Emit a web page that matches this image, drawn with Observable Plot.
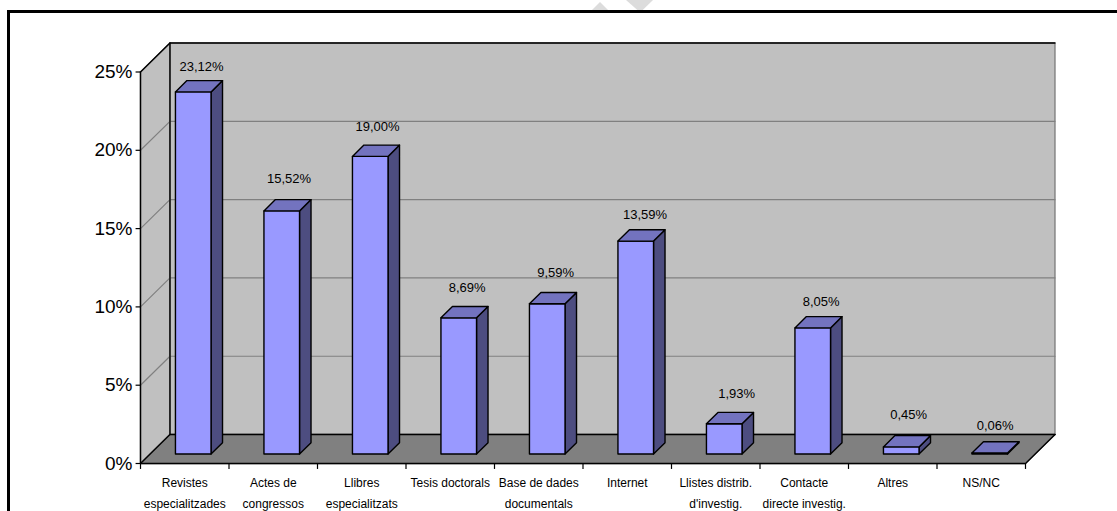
<!DOCTYPE html>
<html>
<head>
<meta charset="utf-8">
<script src="https://cdn.jsdelivr.net/npm/d3@7"></script>
<script src="https://cdn.jsdelivr.net/npm/@observablehq/plot@0.6"></script>
<style>
  html, body { margin: 0; padding: 0; background: #fff; overflow: hidden; }
  #chart { position: relative; width: 1117px; height: 511px; }
  #chart svg { display: block; position: relative; }
  #border { position: absolute; left: 7px; top: 10px; width: 1110px; height: 501px; border-left: 3px solid #000; border-top: 3px solid #000; box-sizing: border-box; }
  .stamp { position: absolute; top: 0; height: 10px; background: #dcdcdc; }
  #stampA { left: 592px; width: 16px; clip-path: polygon(50% 20%, 100% 100%, 0 100%); }
  #stampB { left: 626px; width: 27px; clip-path: polygon(0 0, 100% 0, 62% 100%, 42% 100%); }
</style>
</head>
<body>
<div id="chart"><div class="stamp" id="stampA"></div><div class="stamp" id="stampB"></div><div id="border"></div></div>
<script>
const categories = [
  "Revistes\nespecialitzades", "Actes de\ncongressos", "Llibres\nespecialitzats",
  "Tesis doctorals", "Base de dades\ndocumentals", "Internet",
  "Llistes distrib.\nd'investig.", "Contacte\ndirecte investig.", "Altres", "NS/NC"
];
const values = [23.12, 15.52, 19.00, 8.69, 9.59, 13.59, 1.93, 8.05, 0.45, 0.06];
const labels = ["23,12%", "15,52%", "19,00%", "8,69%", "9,59%", "13,59%", "1,93%", "8,05%", "0,45%", "0,06%"];
const yTicks = [0, 5, 10, 15, 20, 25];

// Hand-placed nudges for the value labels, in pixels.
const labelDx = [0, -1, -1, 0, 0, 1, 4, 0, -1, -3];
const labelDy = [4, -3, 0, -1, -2, 3, 0, 3, -3, 2];

// Oblique projection: depth 0 is the front plane, depth 1 the back wall.
const shearX = 0.333;
const shearY = 1.85;
const nx = categories.length;
const project = (c, v, d) => ({x: c + d * shearX, y: v + d * shearY});

// Placement of each column inside its category slot.
const barLeft = 0.285;
const barRight = 0.687;
const barFront = 0.33;
const barBack = 0.72;

let pid = 0;
const poly = (corners, fill, stroke = "#000") => {
  const id = pid++;
  return corners.map(([c, v, d]) => ({...project(c, v, d), id, fill, stroke}));
};

const wallLeft = poly([[0, 0, 0], [0, 0, 1], [0, 25, 1], [0, 25, 0]], "#c0c0c0", "#808080");
const wallBack = poly([[0, 0, 1], [nx, 0, 1], [nx, 25, 1], [0, 25, 1]], "#c0c0c0", "#808080");
const floor = poly([[0, 0, 0], [nx, 0, 0], [nx, 0, 1], [0, 0, 1]], "#808080", "#808080");

// Gridlines run along the side wall and across the back wall.
const grid = yTicks.slice(1, -1).flatMap(t => {
  const id = pid++;
  return [[0, t, 0], [0, t, 1], [nx, t, 1]].map(([c, v, d]) => ({...project(c, v, d), id}));
});

const barFaces = values.flatMap((v, i) => {
  const l = i + barLeft, r = i + barRight;
  const top = poly([[l, v, barFront], [r, v, barFront], [r, v, barBack], [l, v, barBack]], "#7373bf");
  const side = poly([[r, 0, barFront], [r, 0, barBack], [r, v, barBack], [r, v, barFront]], "#4d4d80");
  const front = poly([[l, 0, barFront], [r, 0, barFront], [r, v, barFront], [l, v, barFront]], "#9999ff");
  return [...side, ...front, ...top];
});

const valueLabels = values.map((v, i) => ({
  ...project(i + 0.4985, v, 1), label: labels[i], i
}));

const face = (data, opts = {}) => Plot.line(data, {
  x: "x", y: "y", z: "id", fill: "fill", stroke: "stroke", strokeWidth: 1.4,
  curve: "linear-closed", ...opts
});

const plot = Plot.plot({
  width: 1117,
  height: 511,
  margin: 0,
  style: {background: "transparent", fontFamily: "'Liberation Sans', Arial, sans-serif", color: "#000"},
  x: {type: "linear", domain: [0, nx], range: [140, 1025], axis: null},
  y: {type: "linear", domain: [0, 25], range: [463, 71.5], axis: null},
  color: {type: "identity"},
  marks: [
    face(wallLeft),
    face(wallBack),
    face(floor),
    Plot.line(grid, {x: "x", y: "y", z: "id", stroke: "#808080", strokeWidth: 1.2}),
    // Inner corners of the box are drawn darker than the outer edge.
    Plot.line([project(0, 25, 1), project(0, 0, 1), project(nx, 0, 1)], {x: "x", y: "y", stroke: "#000", strokeWidth: 1.4}),
    Plot.line([project(0, 25, 0), project(0, 25, 1), project(nx, 25, 1)], {x: "x", y: "y", stroke: "#000", strokeWidth: 1.4}),
    Plot.line([project(0, 0, 0), project(0, 0, 1)], {x: "x", y: "y", stroke: "#000", strokeWidth: 1.4}),
    Plot.line([project(nx, 0, 0), project(nx, 0, 1)], {x: "x", y: "y", stroke: "#000", strokeWidth: 1.4}),
    face(barFaces),
    // Axis lines on the front plane.
    Plot.ruleX([0], {y1: 0, y2: 25, stroke: "#000", strokeWidth: 1.4}),
    Plot.ruleY([0], {x1: 0, x2: nx, stroke: "#000", strokeWidth: 1.4}),
    Plot.ruleY(yTicks, {x1: -0.05, x2: 0, y: d => d, stroke: "#000", strokeWidth: 1.2}),
    Plot.ruleX(d3.range(nx + 1), {x: d => d, y1: 0, y2: -0.38, stroke: "#000", strokeWidth: 1.2}),
    Plot.text(yTicks, {
      x: 0, y: d => d, text: d => `${d}%`, dx: -8, textAnchor: "end", fontSize: 19, fill: "#000"
    }),
    Plot.text(categories, {
      x: (d, i) => i + 0.5, y: 0, text: d => d, dy: 9, fontSize: 12, lineHeight: 1.72,
      lineAnchor: "top", fill: "#000"
    }),
    // One text mark per label so each can carry its own nudge.
    ...valueLabels.map(d => Plot.text([d], {
      x: "x", y: "y", text: "label", dx: -12.5 + labelDx[d.i], dy: -10 + labelDy[d.i], fontSize: 13, fill: "#000"
    }))
  ]
});
document.getElementById("chart").appendChild(plot);
</script>
</body>
</html>
